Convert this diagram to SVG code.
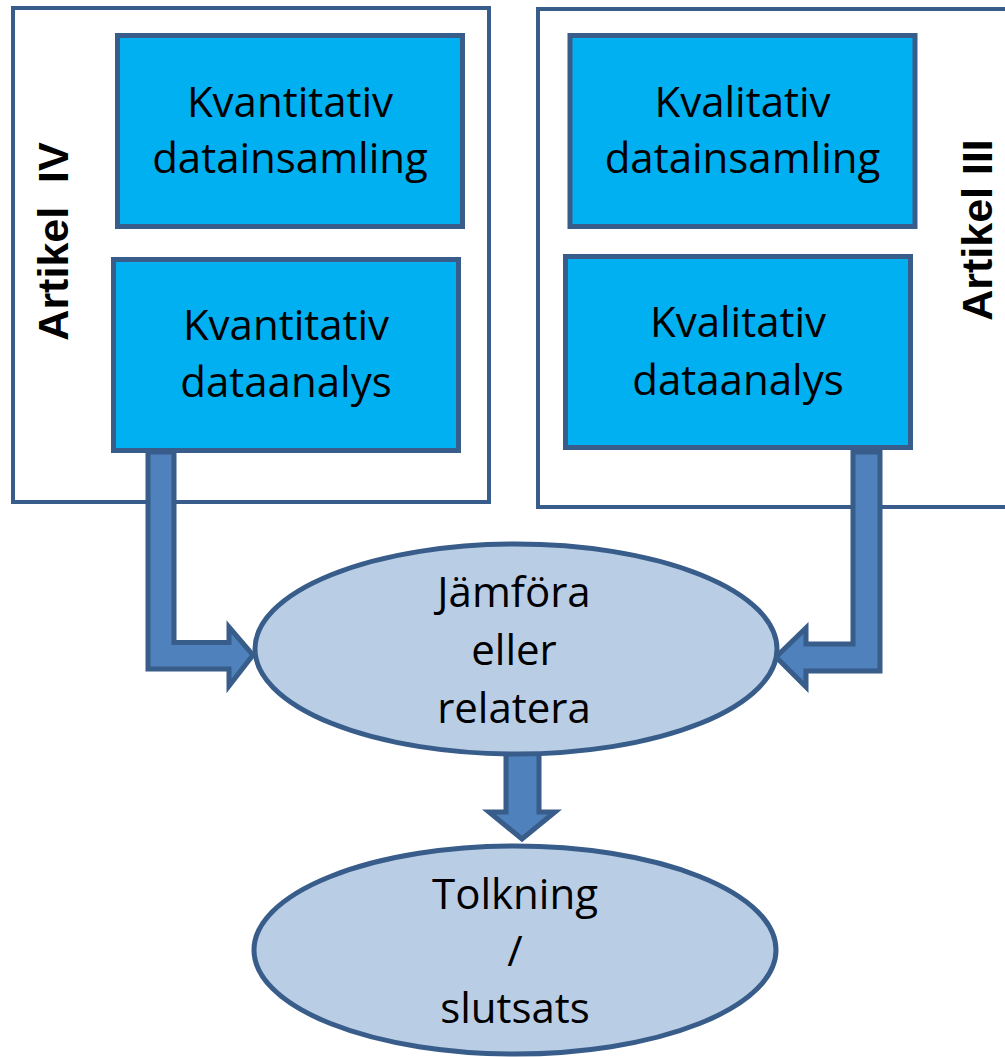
<svg xmlns="http://www.w3.org/2000/svg" width="1005" height="1057" viewBox="0 0 1005 1057">
  <style>
    .frame { fill: #FFFFFF; stroke: #385D8A; stroke-width: 4; }
    .box { fill: #00B0F0; stroke: #385D8A; stroke-width: 5; }
    .oval { fill: #B9CDE5; stroke: #385D8A; stroke-width: 5; }
    .arrow { fill: #4F81BD; stroke: #385D8A; stroke-width: 5; stroke-linejoin: miter; }
    .label { font-family: "Open Sans", "Liberation Sans", sans-serif; font-size: 42px; fill: #000000; text-anchor: middle; }
    .side { font-family: "Liberation Sans", Arial, sans-serif; font-size: 43px; font-weight: bold; fill: #000000; text-anchor: middle; white-space: pre; }
  </style>

  <!-- article frames -->
  <g id="frame-artikel-iv">
    <rect class="frame" x="13" y="8" width="476" height="494"/>
    <text class="side" transform="translate(68,241.5) rotate(-90)">Artikel  IV</text>
  </g>
  <g id="frame-artikel-iii">
    <rect class="frame" x="538" y="9" width="480" height="498"/>
    <text class="side" transform="translate(992,230) rotate(-90)">Artikel III</text>
  </g>

  <!-- block arrows -->
  <g id="connectors">
    <path class="arrow" d="M148,452 L174,452 L174,642.5 L229,642.5 L229,627 L253,655 L229,686 L229,669 L148,669 Z"/>
    <path class="arrow" d="M880,452 L880,671 L806,671 L806,687 L776,657 L806,628 L806,644 L853,644 L853,452 Z"/>
    <path class="arrow" d="M506,752 L539,752 L539,812 L555,812 L522,839 L489,812 L506,812 Z"/>
  </g>

  <!-- quantitative steps -->
  <g id="kvantitativ-datainsamling">
    <rect class="box" x="117.5" y="35.5" width="345" height="191"/>
    <text class="label" x="290" y="117">Kvantitativ</text>
    <text class="label" x="290" y="173">datainsamling</text>
  </g>
  <g id="kvantitativ-dataanalys">
    <rect class="box" x="113.5" y="259.5" width="345" height="191"/>
    <text class="label" x="286" y="340">Kvantitativ</text>
    <text class="label" x="286" y="397">dataanalys</text>
  </g>

  <!-- qualitative steps -->
  <g id="kvalitativ-datainsamling">
    <rect class="box" x="570" y="35.5" width="345" height="191"/>
    <text class="label" x="742.5" y="117">Kvalitativ</text>
    <text class="label" x="742.5" y="173">datainsamling</text>
  </g>
  <g id="kvalitativ-dataanalys">
    <rect class="box" x="565.5" y="256.5" width="345" height="191"/>
    <text class="label" x="738" y="337">Kvalitativ</text>
    <text class="label" x="738" y="395">dataanalys</text>
  </g>

  <!-- merge and conclusion -->
  <g id="jamfora">
    <ellipse class="oval" cx="516" cy="649" rx="261" ry="105"/>
    <text class="label" x="514" y="607">Jämföra</text>
    <text class="label" x="514" y="665">eller</text>
    <text class="label" x="514" y="723">relatera</text>
  </g>
  <g id="tolkning">
    <ellipse class="oval" cx="515" cy="950" rx="261" ry="104"/>
    <text class="label" x="515" y="909">Tolkning</text>
    <text class="label" x="515" y="966">/</text>
    <text class="label" x="515" y="1023">slutsats</text>
  </g>
</svg>
